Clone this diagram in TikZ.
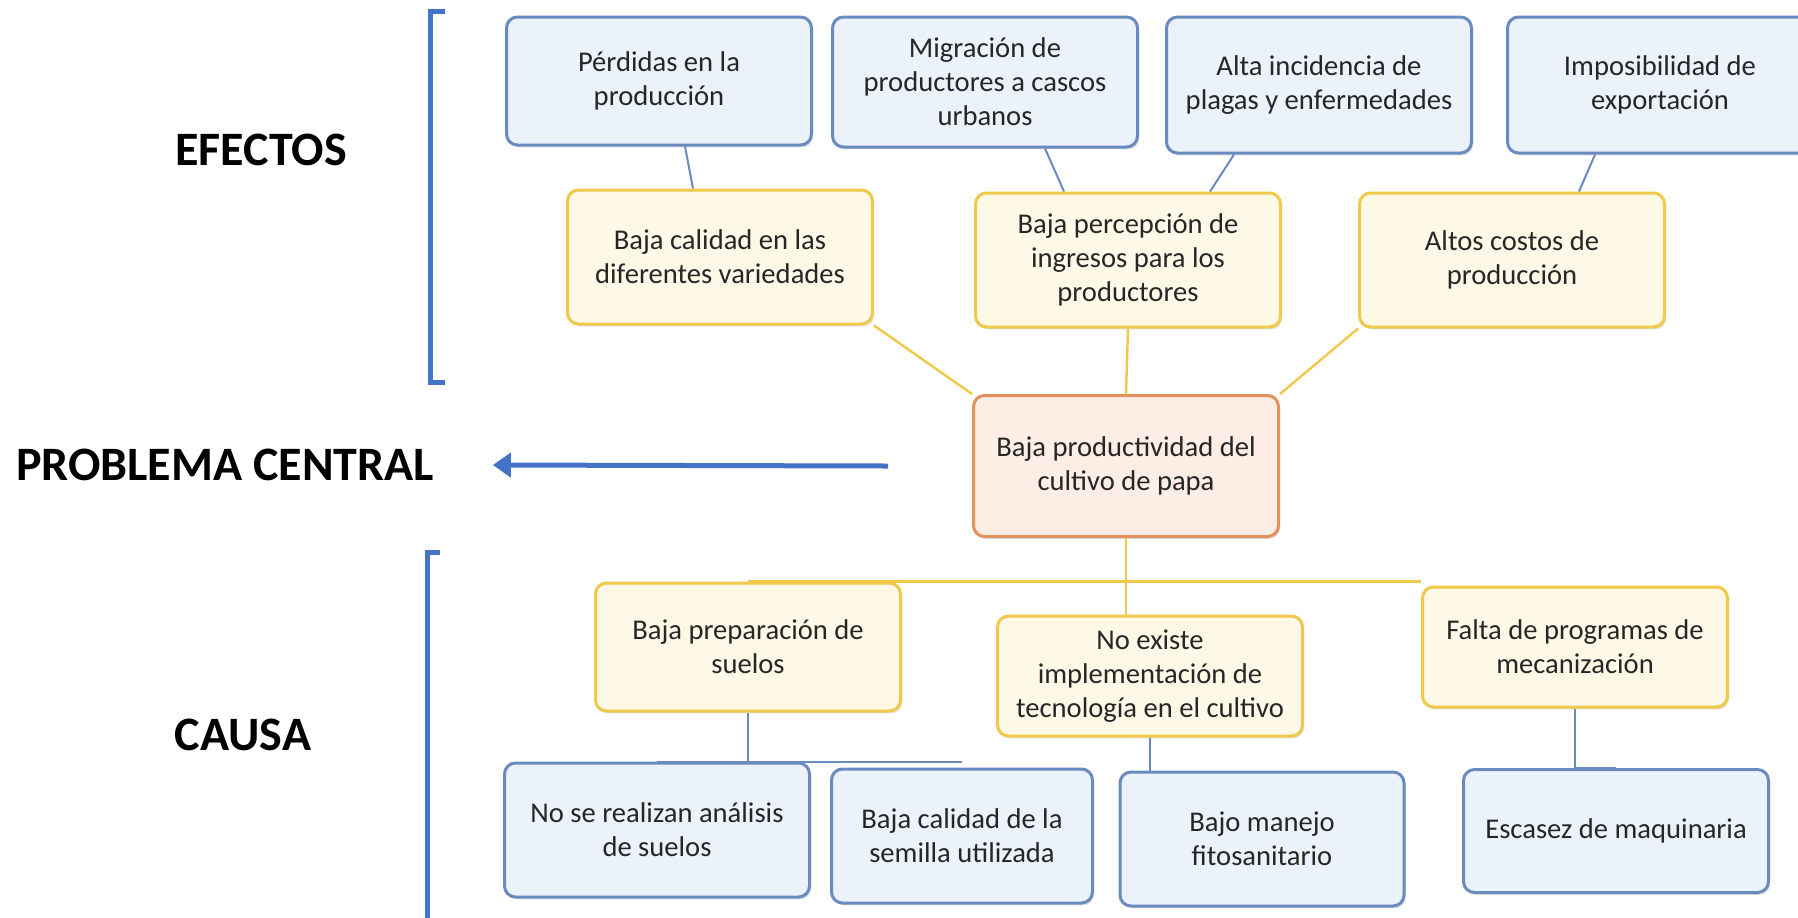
\documentclass[tikz,border=0pt]{standalone}
\usepackage{fontspec}
\setmainfont{Carlito}
\usepackage{tikz}
\usepackage{xcolor}
\usetikzlibrary{arrows.meta,shadows}

\definecolor{azulfondo}{HTML}{EBF2FA}
\definecolor{azulborde}{HTML}{6A8BBF}
\definecolor{amarillofondo}{HTML}{FEF8E6}
\definecolor{amarilloborde}{HTML}{F0C84A}
\definecolor{naranjafondo}{HTML}{FCEDE5}
\definecolor{naranjaborde}{HTML}{E3925E}
\definecolor{azuloffice}{HTML}{4472C4}
\definecolor{texto}{HTML}{262626}

\begin{document}
\begin{tikzpicture}[x=0.5pt, y=-0.5pt,
	caja/.style={rectangle, rounded corners=5.5pt, line width=1.5pt, align=center,
		text=texto, font=\fontsize{14.3}{17}\selectfont, minimum width=152.5pt, minimum height=67pt,
		drop shadow={opacity=0.25, shadow xshift=0.8pt, shadow yshift=-1.2pt}},
	azul/.style={caja, draw=azulborde, fill=azulfondo},
	amarillo/.style={caja, draw=amarilloborde, fill=amarillofondo},
	central/.style={caja, draw=naranjaborde, fill=naranjafondo, minimum height=70.5pt},
	azullink/.style={draw=azulborde, line width=1pt},
	amarillolink/.style={draw=amarilloborde, line width=1.2pt},
	titulo/.style={font=\fontsize{24}{28}\selectfont\bfseries},
	llave/.style={draw=azuloffice, line width=2.5pt},
	flecha/.style={draw=azuloffice, line width=2.5pt, -{Triangle[length=9pt,width=12pt]}}]
	\useasboundingbox (0,0) rectangle (1798,917);

	\node[titulo] (efectos) at (261,150) {EFECTOS};
	\node[titulo] (problema) at (225,465) {PROBLEMA CENTRAL};
	\node[titulo] (causa) at (243,735) {CAUSA};

	\draw[llave] (445,11) -- (430,11) -- (430,382) -- (445,382);
	\draw[llave] (440,552) -- (427,552) -- (427,930);

	\node[azul, minimum height=64pt] (perdidas) at (659,81) {Pérdidas en la\\producción};
	\node[azul, minimum height=65pt] (migracion) at (985,82) {Migración de\\productores a cascos\\urbanos};
	\node[azul, minimum height=68pt] (plagas) at (1319,85) {Alta incidencia de\\plagas y enfermedades};
	\node[azul, minimum height=68pt] (exportacion) at (1660,85) {Imposibilidad de\\exportación};

	\node[amarillo] (calidad) at (720,257) {Baja calidad en las\\diferentes variedades};
	\node[amarillo] (percepcion) at (1128,260) {Baja percepción de\\ingresos para los\\productores};
	\node[amarillo] (costos) at (1512,260) {Altos costos de\\producción};

	\node[central] (papa) at (1126,466) {Baja productividad del\\cultivo de papa};

	\node[amarillo, minimum height=64pt] (suelos) at (748,647) {Baja preparación de\\suelos};
	\node[amarillo, minimum height=60pt] (tecnologia) at (1150,676) {No existe\\implementación de\\tecnología en el cultivo};
	\node[amarillo, minimum height=60pt] (mecanizacion) at (1575,647) {Falta de programas de\\mecanización};

	\node[azul] (analisis) at (657,830) {No se realizan análisis\\de suelos};
	\node[azul, minimum width=130.5pt] (semilla) at (962,836) {Baja calidad de la\\semilla utilizada};
	\node[azul, minimum width=142pt] (fitosanitario) at (1262,839) {Bajo manejo\\fitosanitario};
	\node[azul, minimum height=61.5pt] (maquinaria) at (1616,831) {Escasez de maquinaria};

	\foreach \a/\sa/\b/\sb in {perdidas/13/calidad/-13.5, migracion/30/percepcion/-32,
		plagas/-42.5/percepcion/41, exportacion/-32.5/costos/33.5}
	{
		\draw[azullink] ([xshift=\sa pt]\a.south) -- ([xshift=\sb pt]\b.north);
	}

	\draw[amarillolink] (calidad.south east) -- (papa.north west);
	\draw[amarillolink] (percepcion.south) -- (papa.north);
	\draw[amarillolink] (costos.south west) -- (papa.north east);

	\draw[amarillolink] (papa.south) -- (papa.south |- tecnologia.north);
	\draw[amarillolink] (suelos.north) -- (suelos.north -| mecanizacion.north west);

	\draw[azullink] (suelos.south) -- (suelos.south |- analisis.north);
	\draw[azullink] (analisis.north) -- (analisis.north -| semilla.north);
	\draw[azullink] (tecnologia.south) -- (tecnologia.south |- fitosanitario.north);
	\draw[azullink] (mecanizacion.south) -- (mecanizacion.south |- maquinaria.north) -- (maquinaria.north);

	\draw[flecha] ([xshift=-42pt]papa.west) -- ([xshift=26pt]problema.east);
\end{tikzpicture}
\end{document}
